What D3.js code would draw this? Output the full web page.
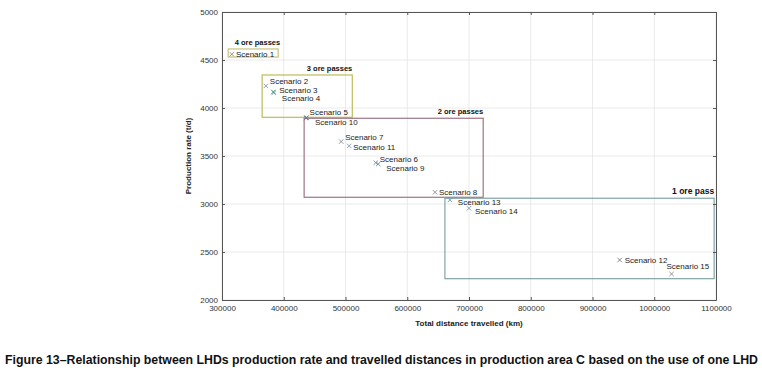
<!DOCTYPE html>
<html lang="en">
  <head>
    <meta charset="utf-8" />
    <title>Figure 13</title>
    <script src="https://d3js.org/d3.v7.min.js"></script>
    <style>
      body { margin: 0; background: white; }
      .tick text { font-family: "Liberation Sans", Arial, sans-serif; font-size: 8px; fill: #333; }
      .lbl { font-family: "Liberation Sans", Arial, sans-serif; font-size: 8px; fill: #222; }
      .grp { font-family: "Liberation Sans", Arial, sans-serif; font-size: 7.5px; font-weight: bold; fill: #111; }
      .axtitle { font-family: "Liberation Sans", Arial, sans-serif; font-size: 8px; font-weight: bold; fill: #222; }
      .caption { font-family: "Liberation Sans Narrow", "Arial Narrow", "Liberation Sans", sans-serif; font-size: 12px; font-weight: bold; fill: #111; }
    </style>
  </head>
  <body>
    <svg width="762" height="372"></svg>
    <script type="text/javascript">
      // scenario points (distance km, production t/d)
      const scenarios = ["Scenario 1", "Scenario 2", "Scenario 3", "Scenario 4", "Scenario 5",
        "Scenario 6", "Scenario 7", "Scenario 8", "Scenario 9", "Scenario 10",
        "Scenario 11", "Scenario 12", "Scenario 13", "Scenario 14", "Scenario 15"];
      const distance = [316000, 371000, 383000, 384000, 437000,
        549000, 493000, 645000, 553000, 436000,
        506000, 944000, 669000, 700000, 1028000];
      const production = [4560, 4230, 4167, 4160, 3900,
        3430, 3650, 3122, 3417, 3895,
        3605, 2417, 3042, 2955, 2271];

      // ore pass groups: [xmin, xmax, ymin, ymax]
      const groups = ["4 ore passes", "3 ore passes", "2 ore passes", "1 ore pass"];
      const groupX0 = [310000, 365000, 433000, 661000];
      const groupX1 = [391000, 511000, 723000, 1097000];
      const groupY0 = [4531, 3903, 3070, 2222];
      const groupY1 = [4615, 4344, 3893, 3060];

      const xTicks = [300000, 400000, 500000, 600000, 700000, 800000, 900000, 1000000, 1100000];
      const yTicks = [2000, 2500, 3000, 3500, 4000, 4500, 5000];

      // label nudges in px (dx, dy) so texts don't pile up
      const labelDx = [4, 4, 6, 8, 3, 4, 4, 4, 8, 9, 4, 5, 8, 6, -5];
      const labelDy = [0, -5, -2, 6, -5, -4, -4, 0, 4, 4, 1, 0, 2, 3, -8];
      const markerColors = ["#8a8a8a", "#8a96a0", "#4f9a8c", "#4f9a8c", "#5b7fa0",
        "#5f9a90", "#8a8a8a", "#8a8a9a", "#5f8aa0", "#5b7fa0",
        "#8a9aa8", "#7a7a7a", "#6a9ab0", "#8a9aa0", "#8a8a8a"];
      const groupColors = ["#c8c27e", "#bcbc5a", "#9e7484", "#80a4a8"];

      const svg = d3.select("svg"),
        margin = { top: 12, right: 46, bottom: 72, left: 222 },
        width = 716 - margin.left,
        height = 300 - margin.top;

      const g = svg.append("g")
        .attr("transform", "translate(" + margin.left + "," + margin.top + ")");

      const x = d3.scaleLinear().domain([300000, 1100000]).range([0, width]);
      const y = d3.scaleLinear().domain([2000, 5000]).range([height, 0]);

      // grid
      g.append("g").selectAll("line").data(xTicks).enter().append("line")
        .attr("x1", (d) => x(d)).attr("x2", (d) => x(d))
        .attr("y1", 0).attr("y2", height)
        .attr("stroke", "#e4e4e4").attr("stroke-width", 0.8);
      g.append("g").selectAll("line").data(yTicks).enter().append("line")
        .attr("y1", (d) => y(d)).attr("y2", (d) => y(d))
        .attr("x1", 0).attr("x2", width)
        .attr("stroke", "#e4e4e4").attr("stroke-width", 0.8);

      // group boxes
      g.append("g").selectAll("rect").data(groups).enter().append("rect")
        .attr("x", (d, i) => x(groupX0[i]))
        .attr("y", (d, i) => y(groupY1[i]))
        .attr("width", (d, i) => x(groupX1[i]) - x(groupX0[i]))
        .attr("height", (d, i) => y(groupY0[i]) - y(groupY1[i]))
        .attr("fill", "none")
        .attr("stroke", (d, i) => groupColors[i])
        .attr("stroke-width", 1.2);
      g.append("g").selectAll("text").data(groups).enter().append("text")
        .attr("class", "grp")
        .attr("x", (d, i) => x(groupX1[i]) + (i == 0 ? 2 : 0))
        .attr("y", (d, i) => y(groupY1[i]) - 4)
        .attr("text-anchor", "end")
        .style("font-size", (d, i) => (i == 3 ? "8.5px" : "7.5px"))
        .text((d) => d);

      // axes
      const axisColor = "#555";
      const xAxis = g.append("g").attr("transform", "translate(0," + height + ")")
        .call(d3.axisBottom(x).tickValues(xTicks).tickFormat(d3.format("d")).tickSizeInner(-3).tickSizeOuter(0).tickPadding(5));
      const yAxis = g.append("g")
        .call(d3.axisLeft(y).tickValues(yTicks).tickFormat(d3.format("d")).tickSizeInner(-3).tickSizeOuter(0).tickPadding(4));
      const xTop = g.append("g")
        .call(d3.axisTop(x).tickValues(xTicks).tickFormat("").tickSizeInner(-3).tickSizeOuter(0));
      const yRight = g.append("g").attr("transform", "translate(" + width + ",0)")
        .call(d3.axisRight(y).tickValues(yTicks).tickFormat("").tickSizeInner(-3).tickSizeOuter(0));
      [xAxis, yAxis, xTop, yRight].forEach((a) => {
        a.select(".domain").attr("stroke", axisColor);
        a.selectAll(".tick line").attr("stroke", axisColor);
      });

      // markers
      const s = 2.2;
      const marks = g.append("g").selectAll("g").data(scenarios).enter().append("g")
        .attr("transform", (d, i) => "translate(" + x(distance[i]) + "," + y(production[i]) + ")");
      marks.append("path")
        .attr("d", "M" + -s + "," + -s + "L" + s + "," + s + "M" + -s + "," + s + "L" + s + "," + -s)
        .attr("stroke", (d, i) => markerColors[i])
        .attr("stroke-width", 0.9);

      g.append("g").selectAll("text").data(scenarios).enter().append("text")
        .attr("class", "lbl")
        .attr("x", (d, i) => x(distance[i]) + labelDx[i])
        .attr("y", (d, i) => y(production[i]) + labelDy[i])
        .attr("dy", "0.35em")
        .text((d) => d);

      // axis titles
      g.append("text").attr("class", "axtitle")
        .attr("x", width / 2).attr("y", height + 26)
        .attr("text-anchor", "middle")
        .text("Total distance travelled (km)");
      g.append("text").attr("class", "axtitle")
        .attr("transform", "translate(-31," + height / 2 + ") rotate(-90)")
        .attr("text-anchor", "middle")
        .text("Production rate (t/d)");

      // caption
      svg.append("text").attr("class", "caption")
        .attr("x", 5).attr("y", 364)
        .attr("textLength", 753).attr("lengthAdjust", "spacingAndGlyphs")
        .text("Figure 13\u2013Relationship between LHDs production rate and travelled distances in production area C based on the use of one LHD");
    </script>
  </body>
</html>
